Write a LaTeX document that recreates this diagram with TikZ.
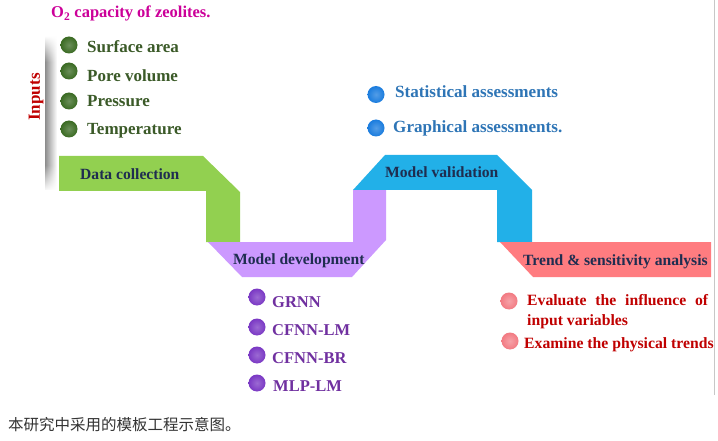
\documentclass[tikz,border=0pt]{standalone}
\usepackage{fontspec}
\setmainfont{Liberation Serif}
\newfontfamily\cjk{Noto Sans CJK SC}
\usetikzlibrary{fadings}
\definecolor{bandgreen}{HTML}{92D050}
\definecolor{bandpurple}{HTML}{CC99FF}
\definecolor{bandblue}{HTML}{22B0E8}
\definecolor{bandred}{HTML}{FF7C80}
\definecolor{navy}{HTML}{1F2D50}
\definecolor{magtxt}{HTML}{CC0099}
\definecolor{greentxt}{HTML}{3B5A28}
\definecolor{bluetxt}{HTML}{2E75B6}
\definecolor{purpletxt}{HTML}{7030A0}
\definecolor{redtxt}{HTML}{C00000}
\definecolor{gballc}{HTML}{3A6A22}
\definecolor{bballc}{HTML}{1A7CDE}
\definecolor{pballc}{HTML}{7A38C4}
\definecolor{rballc}{HTML}{F27A82}
\begin{document}
\begin{tikzpicture}[x=1pt,y=-1pt,
  lab/.style={anchor=base west, inner sep=0pt, font=\bfseries\fontsize{16}{18}\selectfont},
  bandlab/.style={lab, text=navy, font=\bfseries\fontsize{15.6}{18}\selectfont},
  bullet/.style={circle, inner sep=0pt, minimum size=17pt},
  gball/.style={bullet, inner color=gballc!75!white, outer color=gballc},
  bball/.style={bullet, inner color=bballc!75!white, outer color=bballc},
  pball/.style={bullet, inner color=pballc!75!white, outer color=pballc},
  rball/.style={bullet, inner color=rballc!70!white, outer color=rballc},
]
\useasboundingbox (0,0) rectangle (718,441);
\fill[white] (0,0) rectangle (718,441);

% right border line
\draw[black!22, line width=0.8pt] (714,0) -- (714,395);

% shadow bar
\shade[left color=black!45, right color=white] (45,37) rectangle (57,190);
\fill[white, path fading=south] (44,36) rectangle (58,62);
\fill[white, path fading=north] (44,165) rectangle (58,191);

% bands
\fill[bandgreen] (59,156) -- (203,156) -- (240,192) -- (240,242) -- (206,242) -- (206,191) -- (59,191) -- cycle;
\fill[bandpurple] (208,242) -- (353,242) -- (353,190) -- (386,190) -- (386,240) -- (352,277) -- (242,277) -- cycle;
\fill[bandblue] (353,190) -- (385,155) -- (497,155) -- (532,190) -- (532,242) -- (497,242) -- (497,190) -- cycle;
\fill[bandred] (500,242) -- (711,242) -- (711,277) -- (533,277) -- cycle;

% band labels
\node[bandlab] (dc) at (80,179) {Data collection};
\node[bandlab] (md) at (233,264) {Model development};
\node[bandlab] (mv) at (385,178) {Model validation};
\node[bandlab] (ts) at (523,265) {Trend \& sensitivity analysis};

% title and inputs
\node[lab, text=magtxt, font=\bfseries\fontsize{16.5}{18}\selectfont] (title) at (51,18) {O\textsubscript{2} capacity of zeolites.};
\node[inner sep=0pt, rotate=90, text=redtxt, font=\bfseries\fontsize{17}{18}\selectfont] (inputs) at (36,97) {Inputs};

\node[gball] (g1) at (69,45) {};
\node[gball] (g2) at (69,71) {};
\node[gball] (g3) at (69,101) {};
\node[gball] (g4) at (69,129) {};
\node[lab, text=greentxt, font=\bfseries\fontsize{17}{18}\selectfont] (t1) at (87,53) {Surface area};
\node[lab, text=greentxt, font=\bfseries\fontsize{17}{18}\selectfont] (t2) at (87,81.5) {Pore volume};
\node[lab, text=greentxt, font=\bfseries\fontsize{17}{18}\selectfont] (t3) at (87,107) {Pressure};
\node[lab, text=greentxt, font=\bfseries\fontsize{17}{18}\selectfont] (t4) at (87,135) {Temperature};

% validation bullets
\node[bball] (s1) at (376,94.5) {};
\node[bball] (s2) at (376,128) {};
\node[lab, text=bluetxt, font=\bfseries\fontsize{17.1}{18}\selectfont] (st) at (395,98) {Statistical assessments};
\node[lab, text=bluetxt, font=\bfseries\fontsize{17.1}{18}\selectfont] (gr) at (393,133) {Graphical assessments.};

% model bullets
\node[pball] (p1) at (257,297) {};
\node[pball] (p2) at (257,327) {};
\node[pball] (p3) at (257,355) {};
\node[pball] (p4) at (257,383) {};
\node[lab, text=purpletxt, font=\bfseries\fontsize{16.5}{18}\selectfont] (m1) at (272,307) {GRNN};
\node[lab, text=purpletxt, font=\bfseries\fontsize{16.5}{18}\selectfont] (m2) at (272,335) {CFNN-LM};
\node[lab, text=purpletxt, font=\bfseries\fontsize{16.5}{18}\selectfont] (m3) at (272,363) {CFNN-BR};
\node[lab, text=purpletxt, font=\bfseries\fontsize{16.5}{18}\selectfont] (m4) at (273,391.5) {MLP-LM};

% trend bullets
\node[rball] (r1) at (509,301) {};
\node[rball] (r2) at (510,341) {};
\node[lab, text=redtxt, font=\bfseries\fontsize{15.7}{18}\selectfont] (e1) at (527,305) {\makebox[181pt][s]{Evaluate the influence of}};
\node[lab, text=redtxt, font=\bfseries\fontsize{15.7}{18}\selectfont] (e2) at (527,325) {input variables};
\node[lab, text=redtxt, font=\bfseries\fontsize{15.7}{18}\selectfont] (e3) at (524,348) {Examine the physical trends};

% caption
\node[anchor=base west, inner sep=0pt, text=black!80, font=\cjk\fontsize{15.5}{18}\selectfont] (cap) at (8,430) {本研究中采用的模板工程示意图。};
\end{tikzpicture}
\end{document}
